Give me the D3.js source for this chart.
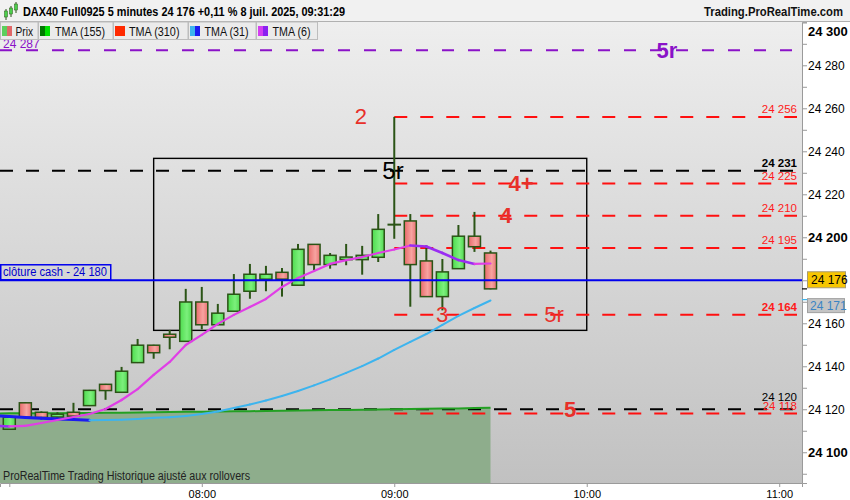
<!DOCTYPE html>
<html><head><meta charset="utf-8">
<script src="https://cdn.jsdelivr.net/npm/d3@7"></script>
<style>body{margin:0;background:#fff;} svg{display:block;font-family:"Liberation Sans",Arial,sans-serif;}</style>
</head><body><svg id="c" width="850" height="500"></svg>
<script>
// ---------- DATA ----------
const candleTimes = ["07:00","07:05","07:10","07:15","07:20","07:25","07:30","07:35","07:40","07:45","07:50","07:55",
  "08:00","08:05","08:10","08:15","08:20","08:25","08:30","08:35","08:40","08:45","08:50","08:55",
  "09:00","09:05","09:10","09:15","09:20","09:25","09:30"];
const openVals  = [24110.7,24123.0,24118.6,24116.4,24118.6,24121.7,24131.6,24127.9,24141.7,24149.8,24154.9,24151.6,
  24169.9,24159.3,24165.6,24174.9,24180.5,24183.7,24177.7,24196.7,24187.3,24189.6,24189.6,24190.7,
  24206.0,24207.6,24189.0,24172.4,24185.4,24200.5,24192.7];
const highVals  = [24116.5,24123.2,24119.0,24118.6,24123.0,24129.0,24131.8,24139.7,24152.7,24150.0,24156.9,24176.0,
  24176.9,24169.0,24182.9,24187.6,24186.7,24185.7,24196.9,24196.8,24192.7,24196.9,24196.0,24210.8,
  24256.0,24210.8,24196.3,24189.9,24205.7,24211.8,24193.8];
const lowVals   = [24110.5,24116.0,24115.5,24115.8,24116.3,24121.5,24124.4,24127.8,24141.5,24143.5,24147.9,24151.5,
  24157.2,24159.2,24165.5,24171.4,24174.9,24172.4,24177.6,24183.9,24185.4,24187.0,24182.6,24188.5,
  24199.3,24167.7,24172.3,24166.0,24185.3,24193.2,24175.8];
const closeVals = [24116.3,24116.3,24116.2,24117.7,24116.8,24128.8,24128.7,24137.7,24149.8,24146.3,24153.5,24169.9,
  24159.3,24164.7,24173.5,24182.8,24182.8,24180.5,24194.4,24187.3,24191.6,24190.8,24191.6,24203.7,
  24206.0,24187.3,24172.4,24183.9,24200.5,24195.6,24176.0];

const maTimes = ["06:55"].concat(candleTimes);
const tma155 = [24118.0,24118.1,24118.1,24118.2,24118.2,24118.3,24118.3,24118.4,24118.4,24118.5,24118.6,24118.7,
  24118.8,24118.9,24119.0,24119.1,24119.1,24119.2,24119.3,24119.4,24119.5,24119.6,24119.7,24119.8,
  24119.9,24120.0,24120.1,24120.2,24120.3,24120.4,24120.6,24120.7];
const tma31 = [24117.0,24116.6,24116.2,24115.8,24115.5,24115.2,24114.9,24115.0,24115.1,24115.5,24116.0,24116.3,
  24116.9,24117.8,24119.0,24120.6,24122.2,24124.1,24126.2,24128.5,24131.1,24133.9,24136.9,24140.1,
  24143.6,24147.6,24151.3,24155.0,24159.2,24163.4,24167.1,24170.6];
const tma6 = [24112.4,24112.0,24112.3,24113.6,24115.0,24116.4,24117.8,24120.1,24124.3,24129.4,24136.0,24142.0,
  24149.9,24154.6,24159.7,24163.9,24167.6,24171.3,24176.9,24181.1,24184.3,24187.6,24189.4,24190.8,
  24192.7,24194.3,24196.2,24195.7,24192.7,24189.4,24187.6,24187.8];

const purpleLevels = [24287];
const blackLevels = [24231, 24120];
const redLevels = [24256, 24225, 24210, 24195, 24164, 24118];
const redLevelStart = "09:00";
const cashClose = 24180;
const cashLabel = "clôture cash -  24 180";
const boxTimes = ["07:45", "10:00"];
const boxValues = [24236.7, 24156.7];
const annoTexts  = ["2", "5r", "4+", "4", "3", "5r", "5", "5r"];
const annoTimes  = ["08:49.6","08:59.6","09:39.5","09:34.8","09:14.9","09:49.8","09:54.8","10:25"];
const annoValues = [24256, 24231, 24225, 24210, 24164, 24164, 24120, 24287];
const lastPrice = 24176;
const lastTma31 = 24171;
const xTickTimes = ["07:00","08:00","09:00","10:00","11:00"];
const yTickValues = d3.range(24090, 24301, 10);
const legendItems = ["Prix", "TMA (155)", "TMA (310)", "TMA (31)", "TMA (6)"];
const titleText = "DAX40 Full0925 5 minutes 24 176 +0,11 % 8 juil. 2025, 09:31:29";
const siteText = "Trading.ProRealTime.com";
const footText = "ProRealTime Trading  Historique ajusté aux rollovers";

// ---------- SETUP ----------
const W = 850, H = 500, plotL = 0, plotR = 802, plotT = 22, plotB = 483;
const tmin = s => { const p = s.split(":"); return +p[0]*60 + +p[1]; };
const loc = d3.formatLocale({decimal: ",", thousands: " ", grouping: [3], currency: ["", "€"]});
const fmt = v => loc.format(",")(Math.round(v));
const x = d3.scaleLinear().domain([417.1, 667.1]).range([plotL, plotR]);
const y = d3.scaleLinear().domain([24085.7, 24300]).range([plotB, 22.3]);
const svg = d3.select("#c");
const defs = svg.append("defs");
const bgGrad = defs.append("linearGradient").attr("id","bg").attr("x1",0).attr("y1",0).attr("x2",0).attr("y2",1);
bgGrad.append("stop").attr("offset","0%").attr("stop-color","#eeeeee");
bgGrad.append("stop").attr("offset","100%").attr("stop-color","#c1c1c1");
const gGrad = defs.append("linearGradient").attr("id","gc").attr("x1",0).attr("x2",1);
gGrad.append("stop").attr("offset","0%").attr("stop-color","#4fdc4f");
gGrad.append("stop").attr("offset","60%").attr("stop-color","#7cf07c");
gGrad.append("stop").attr("offset","100%").attr("stop-color","#52d852");
const rGrad = defs.append("linearGradient").attr("id","rc").attr("x1",0).attr("x2",1);
rGrad.append("stop").attr("offset","0%").attr("stop-color","#e86a6a");
rGrad.append("stop").attr("offset","60%").attr("stop-color","#f7a3a0");
rGrad.append("stop").attr("offset","100%").attr("stop-color","#e87272");
defs.append("clipPath").attr("id","clip").append("rect").attr("x",plotL).attr("y",plotT).attr("width",plotR-plotL).attr("height",plotB-plotT);

svg.append("rect").attr("width",W).attr("height",H).attr("fill","#ffffff");
svg.append("rect").attr("x",plotL).attr("y",plotT).attr("width",plotR-plotL).attr("height",plotB-plotT).attr("fill","url(#bg)");

const plot = svg.append("g").attr("clip-path","url(#clip)");

// green area under TMA155
const maPts = maTimes.map((t,i)=>({t:tmin(t), a:tma155[i], b:tma31[i], c:tma6[i]}));
plot.append("path").datum(maPts)
  .attr("d", d3.area().x(d=>x(d.t)).y0(plotB).y1(d=>y(d.a)))
  .attr("fill","#8ead8c");

// rectangle
plot.append("rect")
  .attr("x", x(tmin(boxTimes[0]))).attr("y", y(boxValues[0]))
  .attr("width", x(tmin(boxTimes[1]))-x(tmin(boxTimes[0])))
  .attr("height", y(boxValues[1])-y(boxValues[0]))
  .attr("fill","none").attr("stroke","#000").attr("stroke-width",1.4);

// levels
const dashEnd = plotR - 5;
plot.selectAll(".pl").data(purpleLevels).join("line")
  .attr("x1",plotL).attr("x2",dashEnd).attr("y1",d=>y(d)).attr("y2",d=>y(d))
  .attr("stroke","#8a12c8").attr("stroke-width",2).attr("stroke-dasharray","12,14");
plot.selectAll(".bl").data(blackLevels).join("line")
  .attr("x1",plotL).attr("x2",dashEnd).attr("y1",d=>y(d)).attr("y2",d=>y(d))
  .attr("stroke","#000").attr("stroke-width",2).attr("stroke-dasharray","13,13");
plot.selectAll(".rl").data(redLevels).join("line")
  .attr("x1",x(tmin(redLevelStart))).attr("x2",dashEnd).attr("y1",d=>y(d)).attr("y2",d=>y(d))
  .attr("stroke","#ff1010").attr("stroke-width",2).attr("stroke-dasharray","13,13");

// TMA155 line
plot.append("path").datum(maPts)
  .attr("d", d3.line().x(d=>x(d.t)).y(d=>y(d.a)))
  .attr("fill","none").attr("stroke","#22a022").attr("stroke-width",2);

// candles
const candles = candleTimes.map((t,i)=>({t:tmin(t), o:openVals[i], h:highVals[i], l:lowVals[i], c:closeVals[i]}));
const bw = (x(5)-x(0))*0.75;
const cg = plot.append("g");
cg.selectAll(".w").data(candles).join("line")
  .attr("x1",d=>x(d.t)).attr("x2",d=>x(d.t)).attr("y1",d=>y(d.h)).attr("y2",d=>y(d.l))
  .attr("stroke","#2b5416").attr("stroke-width",2);
cg.selectAll(".b").data(candles).join("rect")
  .attr("x",d=>x(d.t)-bw/2).attr("width",bw)
  .attr("y",d=>y(Math.max(d.o,d.c))).attr("height",d=>Math.max(0.5, Math.abs(y(d.o)-y(d.c))))
  .attr("fill",d=>d.c>=d.o?"url(#gc)":"url(#rc)")
  .attr("stroke","#2b5416").attr("stroke-width",1.5);

// MA segments with colours by slope
function segs(key, up, down, wUp, wDown){
  for(let i=1;i<maPts.length;i++){
    const a=maPts[i-1], b=maPts[i];
    const rising = b[key] >= a[key];
    plot.append("line").attr("x1",x(a.t)).attr("y1",y(a[key])).attr("x2",x(b.t)).attr("y2",y(b[key]))
      .attr("stroke", rising?up:down).attr("stroke-width", rising?wUp:wDown).attr("stroke-linecap","round");
  }
}
segs("b", "#3db4ee", "#1c1cf0", 2, 3);
segs("c", "#e03ee6", "#9a2cf2", 2.2, 2.6);

// cash close blue line
plot.append("line").attr("x1",plotL).attr("x2",plotR).attr("y1",y(cashClose)).attr("y2",y(cashClose))
  .attr("stroke","#0000ee").attr("stroke-width",2);
const cl = svg.append("g");
cl.append("rect").attr("x",0.75).attr("y",y(cashClose)-15.5).attr("width",110).attr("height",15)
  .attr("fill","none").attr("stroke","#0000ee").attr("stroke-width",1.5);
cl.append("text").attr("x",3).attr("y",y(cashClose)-4).attr("font-size",12).attr("fill","#0000cc")
  .attr("textLength",104).attr("lengthAdjust","spacingAndGlyphs").text(cashLabel);

// annotations
const annoStyle = [
  {fill:"#e8302a", size:22, weight:"normal"},
  {fill:"#000000", size:24, weight:"normal"},
  {fill:"#e8302a", size:22, weight:"bold"},
  {fill:"#e8302a", size:22, weight:"bold"},
  {fill:"#e8302a", size:22, weight:"normal"},
  {fill:"#e8302a", size:22, weight:"normal"},
  {fill:"#e8302a", size:22, weight:"bold"},
  {fill:"#8a12c8", size:22, weight:"bold"}];
const tm2 = s => { const p=s.split(":"); return +p[0]*60 + parseFloat(p[1]); };
annoTexts.forEach((t,i)=>{
  plot.append("text").attr("x",x(tm2(annoTimes[i]))).attr("y",y(annoValues[i]))
    .attr("text-anchor","middle").attr("dominant-baseline","central")
    .attr("font-size",annoStyle[i].size).attr("font-weight",annoStyle[i].weight)
    .attr("fill",annoStyle[i].fill).text(t);
});

// level labels at right
const lblX = plotR - 5;
redLevels.forEach(v=>{
  plot.append("text").attr("x",lblX).attr("y",y(v)-4).attr("text-anchor","end").attr("font-size",11.5)
    .attr("font-weight", v===24164?"bold":"normal").attr("fill","#ff1a1a").text(fmt(v));
});
blackLevels.forEach(v=>{
  plot.append("text").attr("x",lblX).attr("y",y(v)-(v===24120?8:4)).attr("text-anchor","end").attr("font-size",11.5)
    .attr("font-weight", v===24231?"bold":"normal").attr("fill","#000").text(fmt(v));
});
purpleLevels.forEach(v=>{
  plot.append("text").attr("x",3).attr("y",y(v)-2).attr("font-size",12).attr("fill","#8a12c8").text(fmt(v));
});
// footer
plot.append("text").attr("x",3).attr("y",plotB-3).attr("font-size",12).attr("fill","#222")
  .attr("textLength",247).attr("lengthAdjust","spacingAndGlyphs").text(footText);

// ---------- AXES ----------
svg.append("rect").attr("x",plotR).attr("y",plotT).attr("width",W-plotR).attr("height",H-plotT).attr("fill","#ffffff");
const ya = svg.append("g").attr("transform",`translate(${plotR},0)`)
  .call(d3.axisRight(y).tickValues(yTickValues).tickSize(5).tickPadding(1)
    .tickFormat(v => (v%20===0 && v!==24180) ? fmt(v) : ""));
ya.select(".domain").attr("stroke","#9a9a9a");
ya.selectAll(".tick line").attr("stroke","#9a9a9a");
ya.selectAll(".tick text").attr("font-family","Liberation Sans, Arial, sans-serif").attr("fill","#000")
  .attr("font-size", v => v%100===0 ? 13 : 12).attr("font-weight", v => v%100===0 ? "bold" : "normal")
  .attr("dy", v => y(v) < 29 ? "1.0em" : "0.32em");

const xa = svg.append("g").attr("transform",`translate(0,${plotB})`)
  .call(d3.axisBottom(x).tickValues(xTickTimes.map(tmin)).tickSize(4)
    .tickFormat((m,i) => i===0 ? "" : xTickTimes[i]));
xa.select(".domain").attr("stroke","#9a9a9a");
xa.selectAll(".tick line").attr("stroke","#9a9a9a");
xa.selectAll(".tick text").attr("font-family","Liberation Sans, Arial, sans-serif").attr("font-size",11).attr("fill","#000");

// last price markers
svg.append("line").attr("x1",plotR).attr("x2",plotR+5).attr("y1",y(lastPrice)).attr("y2",y(lastPrice)).attr("stroke","#000").attr("stroke-width",1.2);
svg.append("line").attr("x1",plotR).attr("x2",plotR+5).attr("y1",y(lastTma31)).attr("y2",y(lastTma31)).attr("stroke","#3db4ee").attr("stroke-width",1.2);
svg.append("rect").attr("x",plotR+5.5).attr("y",y(cashClose)-8.5).attr("width",38).attr("height",16)
  .attr("fill","#f7c600").attr("stroke","#a89a70");
svg.append("text").attr("x",plotR+9).attr("y",y(cashClose)+4).attr("font-size",12).attr("fill","#000").text(fmt(lastPrice));
svg.append("rect").attr("x",plotR+5.5).attr("y",y(lastTma31)-1).attr("width",37).attr("height",14)
  .attr("fill","#c4c4c4").attr("stroke","#a0a0a0");
svg.append("text").attr("x",plotR+8).attr("y",y(lastTma31)+10.5).attr("font-size",12).attr("fill","#3a84c4").text(fmt(lastTma31));

// ---------- HEADER ----------
svg.append("rect").attr("x",0).attr("y",0).attr("width",W).attr("height",21).attr("fill","#f1f1f1");
svg.append("line").attr("x1",0).attr("x2",W).attr("y1",21.5).attr("y2",21.5).attr("stroke","#b0b0b0");
// icon
const ic = svg.append("g").attr("fill","#4ccf4c").attr("stroke","#2b5416");
[[6,11,6],[11,8,6],[16,4,6]].forEach(p=>{
  ic.append("line").attr("x1",p[0]).attr("x2",p[0]).attr("y1",p[1]-2).attr("y2",p[1]+p[2]+3).attr("stroke-width",1);
  ic.append("rect").attr("x",p[0]-1.5).attr("y",p[1]).attr("width",3).attr("height",p[2]).attr("stroke-width",0.5);
});
svg.append("text").attr("x",23).attr("y",16).attr("font-size",13).attr("font-weight","bold").attr("fill","#000")
  .attr("textLength",322).attr("lengthAdjust","spacingAndGlyphs").text(titleText);
svg.append("text").attr("x",704).attr("y",16).attr("font-size",13).attr("font-weight","bold").attr("fill","#111")
  .attr("textLength",139).attr("lengthAdjust","spacingAndGlyphs").text(siteText);

// legend
const legX = [0, 38, 113, 188, 256], legW = [37.5, 74.5, 74.5, 67.5, 61];
const legTextX = [15.5, 17, 16, 16.5, 16.5], legTextW = [17.5, 50, 50.5, 44, 38];
const swatches = [["#5ccf5c","#e06868"],["#007800","#00e000"],["#ff2a00","#ff2a00"],["#3db4ee","#1c1cf0"],["#d33ef0","#8a20f0"]];
legendItems.forEach((name,i)=>{
  const g = svg.append("g").attr("transform",`translate(${legX[i]},22)`);
  g.append("rect").attr("x",0.5).attr("y",0).attr("width",legW[i]).attr("height",17.5).attr("fill","#ebebeb").attr("stroke","#bdbdbd");
  g.append("rect").attr("x",2).attr("y",4).attr("width",5).attr("height",10).attr("fill",swatches[i][0]);
  g.append("rect").attr("x",7).attr("y",4).attr("width",5).attr("height",10).attr("fill",swatches[i][1]);
  g.append("text").attr("x",legTextX[i]).attr("y",13.5).attr("font-size",12.5).attr("fill","#111")
    .attr("textLength",legTextW[i]).attr("lengthAdjust","spacingAndGlyphs").text(name);
});
</script></body></html>
